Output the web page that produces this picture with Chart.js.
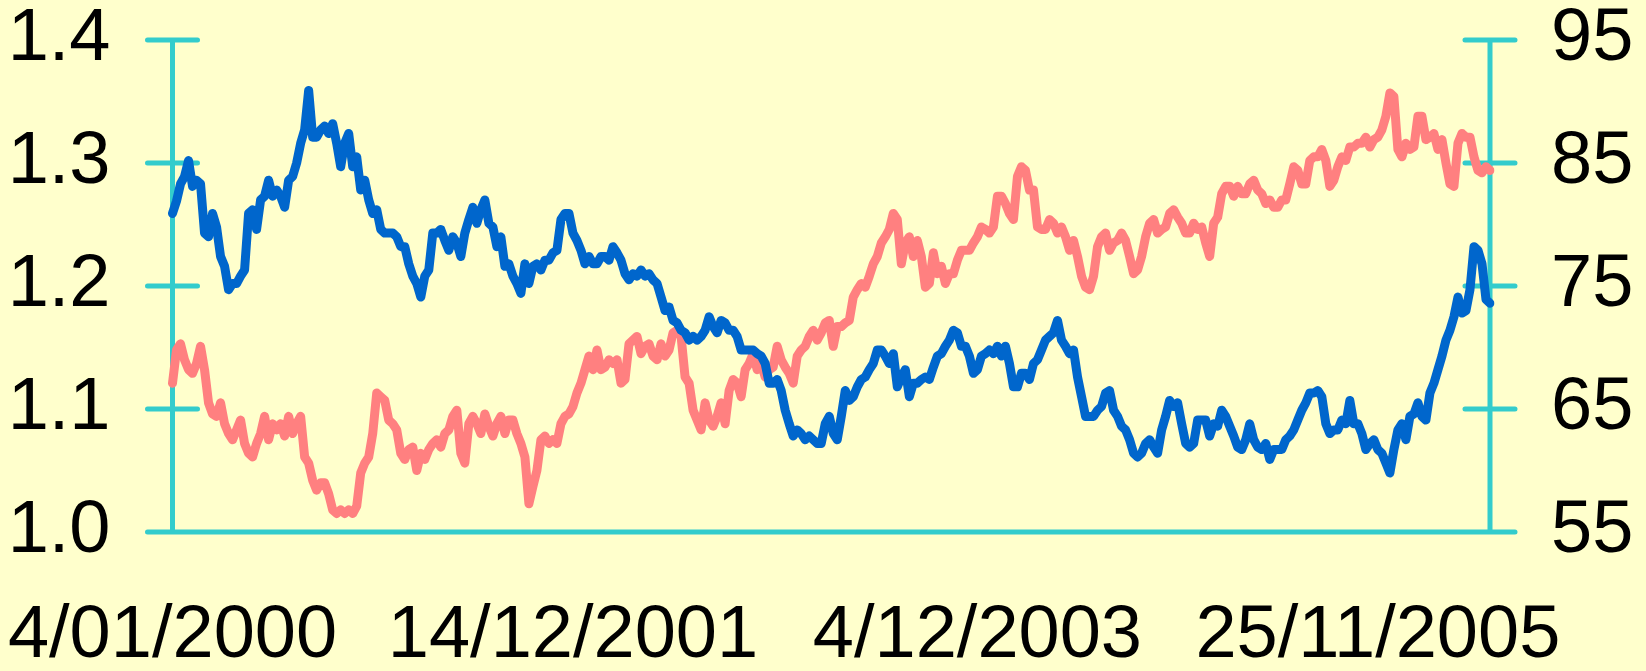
<!DOCTYPE html>
<html>
<head>
<meta charset="utf-8">
<script src="https://cdn.jsdelivr.net/npm/chart.js@4"></script>
<style>
  html, body { margin: 0; padding: 0; background: #FFFFCC; }
  canvas { display: block; }
</style>
</head>
<body>
<canvas id="myChart" width="1646" height="671"></canvas>
<script>
// x axis: one point per sample, date labels only at a few of them
const tickLabels = ['4/01/2000', '14/12/2001', '4/12/2003', '25/11/2005'];
const tickAt = [0, 100, 201, 301];

// left axis series (blue)
const blueSeries = [
  1.259,1.269,1.283,1.289,1.302,1.281,1.286,1.283,1.243,1.240,
  1.259,1.248,1.224,1.216,1.197,1.202,1.202,1.208,1.213,1.259,
  1.262,1.246,1.270,1.273,1.286,1.273,1.278,1.273,1.264,1.286,
  1.289,1.300,1.316,1.327,1.359,1.321,1.321,1.327,1.330,1.324,
  1.332,1.316,1.297,1.316,1.324,1.297,1.305,1.278,1.286,1.270,
  1.259,1.262,1.246,1.243,1.243,1.243,1.240,1.232,1.232,1.218,
  1.208,1.202,1.191,1.208,1.213,1.243,
  1.243,1.246,1.237,1.229,1.240,1.235,1.224,1.243,1.254,1.264,
  1.251,1.262,1.270,1.251,1.248,1.232,1.240,1.216,1.218,1.208,
  1.202,1.194,1.218,1.202,1.216,1.218,1.213,1.221,1.221,1.227,
  1.229,1.254,1.259,1.259,1.243,1.237,1.229,1.218,1.224,1.218,
  1.218,1.224,1.224,1.221,1.232,1.227,1.221,1.210,1.205,1.210,
  1.208,1.213,1.208,1.210,1.205,1.202,1.191,1.180,1.183,1.172,
  1.170,1.164,1.162,1.156,1.159,1.156,
  1.159,1.164,1.175,1.167,1.162,1.172,1.170,1.164,1.164,1.159,
  1.148,1.148,1.148,1.148,1.145,1.143,1.137,1.121,1.121,1.124,
  1.115,1.099,1.088,1.078,1.083,1.080,1.075,1.078,1.075,1.072,
  1.072,1.088,1.094,1.080,1.075,1.094,1.115,1.107,1.110,1.118,
  1.124,1.126,1.132,1.137,1.148,1.148,1.143,1.137,1.145,1.118,
  1.126,1.132,1.110,1.121,1.121,1.124,1.126,1.124,1.134,1.143,
  1.145,1.151,1.156,1.164,1.162,1.151,
  1.151,1.143,1.129,1.132,1.143,1.145,1.148,1.145,1.151,1.143,
  1.151,1.137,1.118,1.118,1.129,1.129,1.124,1.137,1.140,1.148,
  1.156,1.159,1.162,1.172,1.156,1.151,1.145,1.148,1.126,1.110,
  1.094,1.094,1.094,1.099,1.102,1.113,1.115,1.099,1.094,1.086,
  1.083,1.075,1.064,1.061,1.064,1.072,1.075,1.069,1.064,1.083,
  1.094,1.107,1.102,1.105,1.088,1.072,1.069,1.072,1.091,1.091,
  1.091,1.078,1.088,1.086,1.099,1.094,
  1.086,1.078,1.069,1.067,1.075,1.088,1.075,1.069,1.067,1.072,
  1.059,1.067,1.067,1.067,1.075,1.078,1.083,1.091,1.099,1.105,
  1.113,1.113,1.115,1.110,1.088,1.080,1.083,1.083,1.091,1.088,
  1.107,1.088,1.088,1.080,1.067,1.072,1.075,1.067,1.064,1.056,
  1.048,1.067,1.083,1.088,1.075,1.094,1.096,1.105,1.094,1.091,
  1.113,1.121,1.132,1.143,1.156,1.164,1.175,1.191,1.178,1.180,
  1.197,1.232,1.229,1.218,1.189,1.186
];

// right axis series (pink)
const pinkSeries = [
  67.1,69.8,70.3,69.0,68.2,67.9,68.7,70.1,68.2,65.5,
  64.6,64.4,65.5,63.8,63.0,62.5,63.3,64.1,62.2,61.4,
  61.1,62.2,63.0,64.4,62.5,63.8,63.3,63.8,62.8,64.4,
  63.0,63.8,64.4,61.1,60.6,59.2,58.4,59.0,59.0,58.1,
  56.8,56.5,56.8,56.5,56.8,56.5,57.1,59.8,60.6,61.1,
  63.0,66.3,66.0,65.7,64.1,63.8,63.3,61.4,60.9,61.7,
  61.9,60.0,61.4,60.9,61.7,62.2,
  62.5,61.9,63.0,63.3,64.4,64.9,61.4,60.6,63.8,64.4,
  63.8,63.0,64.6,63.6,62.8,63.8,64.4,63.0,64.1,64.1,
  63.0,62.2,61.1,57.3,58.7,60.0,62.5,62.8,62.2,62.5,
  62.2,63.8,64.4,64.6,65.2,66.3,67.1,68.2,69.3,68.2,
  69.8,68.2,68.4,69.0,68.7,69.0,67.1,67.4,70.3,70.6,
  70.9,69.5,70.1,70.3,69.3,69.0,70.3,69.3,69.8,71.2,
  71.4,70.9,67.6,67.1,64.9,64.1,
  63.3,65.5,64.1,63.6,64.4,65.5,63.8,66.5,67.4,67.1,
  66.0,68.2,68.7,69.5,68.2,68.7,67.6,68.2,68.4,70.1,
  69.0,68.4,67.9,67.1,69.3,69.8,70.1,70.9,71.4,70.6,
  71.2,72.0,72.2,70.1,71.7,71.7,72.0,72.2,74.1,74.7,
  75.2,74.9,75.8,76.8,77.4,78.5,79.0,79.6,80.9,80.4,
  76.8,78.5,79.0,77.4,78.7,77.4,74.9,75.2,77.7,76.0,
  76.6,75.2,76.0,76.0,77.1,77.9,
  77.9,77.9,78.5,79.0,79.8,79.6,79.3,79.8,82.3,82.3,
  81.7,80.9,80.4,83.9,84.7,84.4,82.8,82.8,79.8,79.6,
  79.6,80.4,80.1,79.3,79.8,79.0,77.9,78.7,77.4,75.8,
  74.9,74.7,75.8,78.2,79.0,79.3,77.9,78.5,78.7,79.3,
  78.7,77.4,76.0,76.3,77.4,79.0,80.1,80.4,79.3,79.6,
  79.8,80.9,81.2,80.6,80.1,79.3,79.3,80.1,79.6,79.8,
  78.5,77.4,80.1,80.6,82.5,83.1,
  83.1,82.3,83.1,82.5,82.5,83.3,83.6,82.8,82.5,81.7,
  82.0,81.4,81.4,82.0,82.0,83.3,84.7,84.4,83.3,83.3,
  85.2,85.5,85.5,86.1,85.2,83.1,83.6,84.7,85.5,85.2,
  86.3,86.3,86.6,86.6,87.1,86.3,86.9,87.1,87.7,88.8,
  90.7,90.4,86.1,85.5,86.6,86.1,86.3,88.8,88.8,86.9,
  87.1,87.4,86.1,86.9,85.0,83.3,83.1,86.6,87.4,87.1,
  87.1,85.5,84.4,84.2,84.7,84.4
];

const AXIS_COLOR = '#33CCCC';
const FONT = '"Liberation Sans", Arial, sans-serif';
const FONT_SIZE = 74;

const allLabels = new Array(blueSeries.length).fill('');
tickAt.forEach((idx, i) => { allLabels[idx] = tickLabels[i]; });

// draws the cyan axes with ticks crossing them
const axesPlugin = {
  id: 'axes',
  beforeDatasetsDraw(chart) {
    const {ctx, chartArea} = chart;
    const yL = chart.scales.y, yR = chart.scales.y2;
    const half = 25;
    ctx.save();
    ctx.strokeStyle = AXIS_COLOR;
    ctx.lineWidth = 5;
    ctx.lineCap = 'round';
    ctx.beginPath();
    ctx.moveTo(chartArea.left, chartArea.top);
    ctx.lineTo(chartArea.left, chartArea.bottom);
    ctx.moveTo(chartArea.right, chartArea.top);
    ctx.lineTo(chartArea.right, chartArea.bottom);
    yL.ticks.forEach(t => {
      const py = yL.getPixelForValue(t.value);
      ctx.moveTo(chartArea.left - half, py);
      ctx.lineTo(chartArea.left + half, py);
    });
    yR.ticks.forEach(t => {
      const py = yR.getPixelForValue(t.value);
      ctx.moveTo(chartArea.right - half, py);
      ctx.lineTo(chartArea.right + half, py);
    });
    ctx.moveTo(chartArea.left - half, chartArea.bottom);
    ctx.lineTo(chartArea.right + half, chartArea.bottom);
    ctx.stroke();
    ctx.restore();
  }
};

// invisible tick marks used only to push the labels away from the axes
const hiddenGrid = len => ({
  display: true,
  drawOnChartArea: false,
  drawTicks: true,
  tickLength: len,
  color: 'rgba(0,0,0,0)'
});

const ctxt = document.getElementById('myChart').getContext('2d');

const myChart = new Chart(ctxt, {
  type: 'line',
  data: {
    labels: allLabels,
    datasets: [
      {
        data: blueSeries,
        yAxisID: 'y',
        borderColor: '#0066CC',
        borderWidth: 9,
        pointRadius: 0,
        borderJoinStyle: 'round',
        borderCapStyle: 'round',
        tension: 0
      },
      {
        data: pinkSeries,
        yAxisID: 'y2',
        borderColor: '#FF8080',
        borderWidth: 9,
        pointRadius: 0,
        borderJoinStyle: 'round',
        borderCapStyle: 'round',
        tension: 0
      }
    ]
  },
  options: {
    responsive: false,
    animation: false,
    layout: { padding: { top: 40, left: 0, right: 0, bottom: 0 } },
    plugins: { legend: { display: false }, tooltip: { enabled: false } },
    scales: {
      x: {
        grid: hiddenGrid(60),
        border: { display: false },
        ticks: {
          autoSkip: false,
          maxRotation: 0,
          minRotation: 0,
          padding: 0,
          color: '#000',
          font: { family: FONT, size: FONT_SIZE, lineHeight: 1.2 }
        },
        afterFit: s => { s.height = 139; }
      },
      y: {
        position: 'left',
        min: 1.0,
        max: 1.4,
        grid: hiddenGrid(62),
        border: { display: false },
        ticks: {
          stepSize: 0.1,
          padding: 0,
          color: '#000',
          font: { family: FONT, size: FONT_SIZE, lineHeight: 1 },
          callback: v => v.toFixed(1)
        },
        afterFit: s => { s.width = 172.5; }
      },
      y2: {
        position: 'right',
        min: 55,
        max: 95,
        grid: hiddenGrid(61),
        border: { display: false },
        ticks: {
          stepSize: 10,
          padding: 0,
          color: '#000',
          font: { family: FONT, size: FONT_SIZE, lineHeight: 1 }
        },
        afterFit: s => { s.width = 156; }
      }
    }
  },
  plugins: [axesPlugin]
});
</script>
</body>
</html>
